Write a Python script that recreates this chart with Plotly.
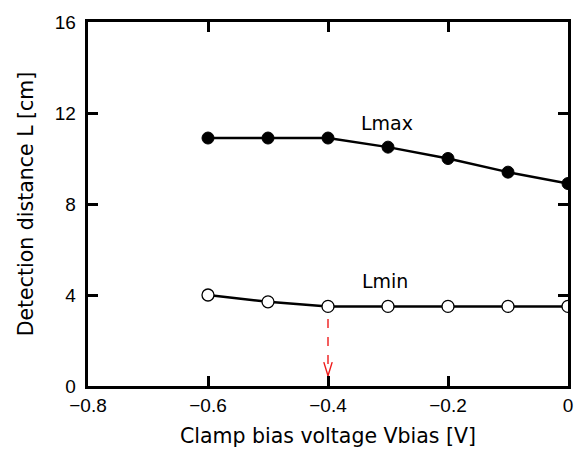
import plotly.graph_objects as go

vbias = [-0.6, -0.5, -0.4, -0.3, -0.2, -0.1, 0.0]
lmax = [10.9, 10.9, 10.9, 10.5, 10.0, 9.4, 8.9]
lmin = [4.0, 3.7, 3.5, 3.5, 3.5, 3.5, 3.5]

arrow_x = [-0.4, -0.4]
arrow_y = [2.95, 0.45]
head_x = [-0.407, -0.4, -0.393]
head_y = [1.05, 0.45, 1.05]

xticks = [-0.8, -0.6, -0.4, -0.2, 0]
xtick_text = ["\u22120.8", "\u22120.6", "\u22120.4", "\u22120.2", "0"]
yticks = [0, 4, 8, 12, 16]
ytick_text = ["0\u00a0", "4\u00a0", "8\u00a0", "12\u00a0", "16\u00a0"]

TICKFONT = "Liberation Sans, Arial, sans-serif"
TITLEFONT = "DejaVu Sans, sans-serif"
TICKLEN = 10

fig = go.Figure()
fig.add_trace(go.Scatter(x=arrow_x, y=arrow_y, mode="lines",
                         line=dict(color="#ee1c1c", width=1.4, dash="dash"),
                         showlegend=False, hoverinfo="skip"))
fig.add_trace(go.Scatter(x=head_x, y=head_y, mode="lines",
                         line=dict(color="#ee1c1c", width=1.4),
                         showlegend=False, hoverinfo="skip"))
fig.add_trace(go.Scatter(x=vbias, y=lmax, mode="lines+markers",
                         line=dict(color="black", width=2.5),
                         marker=dict(size=12, color="black", line=dict(color="black", width=1)),
                         showlegend=False))
fig.add_trace(go.Scatter(x=vbias, y=lmin, mode="lines+markers",
                         line=dict(color="black", width=2.5),
                         marker=dict(size=12, color="white", line=dict(color="black", width=1.3)),
                         showlegend=False))

fig.add_annotation(x=-0.302, y=11.55, text="Lmax", showarrow=False,
                   font=dict(family=TITLEFONT, size=19, color="black"))
fig.add_annotation(x=-0.305, y=4.6, text="Lmin", showarrow=False,
                   font=dict(family=TITLEFONT, size=19, color="black"))

axis_common = dict(showline=True, linecolor="black", linewidth=3, mirror="ticks",
                   ticks="inside", ticklen=TICKLEN, tickwidth=3, tickcolor="black",
                   showgrid=False, zeroline=False,
                   tickfont=dict(family=TICKFONT, size=19, color="black"))

fig.update_xaxes(range=[-0.8, 0], tickvals=xticks, ticktext=xtick_text,
                 title=dict(text="Clamp bias voltage Vbias [V]",
                            font=dict(family=TITLEFONT, size=20.5, color="black"), standoff=14),
                 **axis_common)
fig.update_yaxes(range=[0, 16], tickvals=yticks, ticktext=ytick_text,
                 title=dict(text="Detection distance L [cm]",
                            font=dict(family=TITLEFONT, size=20.5, color="black"), standoff=16),
                 **axis_common)

fig.update_layout(width=580, height=451, margin=dict(l=88, r=7, t=22, b=64),
                  plot_bgcolor="white", paper_bgcolor="white")

fig.write_html("out.html", config={"displayModeBar": False},
               post_script="document.body.style.margin='0px';document.body.style.overflow='hidden';")
